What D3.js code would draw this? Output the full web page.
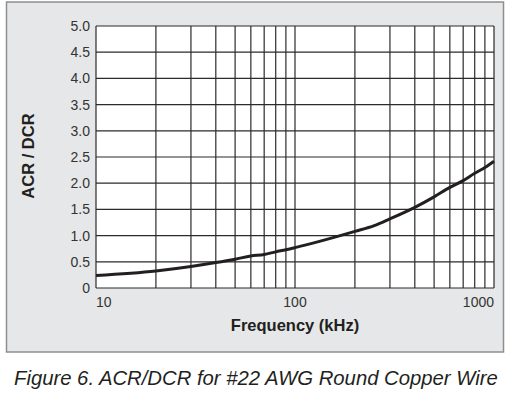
<!DOCTYPE html>
<html>
<head>
<meta charset="utf-8">
<script src="https://cdn.jsdelivr.net/npm/d3@7/dist/d3.min.js"></script>
<style>
  html, body { margin: 0; padding: 0; background: #fff; }
  svg text { font-family: "Liberation Sans", Arial, Helvetica, sans-serif; }
</style>
</head>
<body>
<svg id="chart" width="511" height="395"></svg>
<script>
// curve (frequency in kHz, ACR/DCR)
const freqs = [10, 20, 30, 40, 50, 60, 70, 80, 90, 100, 200, 250, 300, 400, 500, 600, 700, 800, 900, 1000]
const ratios = [0.24, 0.325, 0.41, 0.485, 0.55, 0.61, 0.64, 0.69, 0.73, 0.77, 1.08, 1.19, 1.32, 1.54, 1.74, 1.92, 2.05, 2.19, 2.30, 2.42]

const xTickLabels = [10, 100, 1000]
const yTicks = [0, 0.5, 1.0, 1.5, 2.0, 2.5, 3.0, 3.5, 4.0, 4.5, 5.0]
const xGrid = [20, 30, 40, 50, 60, 70, 80, 90, 100, 200, 300, 400, 500, 600, 700, 800, 900, 1000]

const margin = { left: 96, top: 26, right: 17, bottom: 107 }
const width = 511 - margin.left - margin.right
const height = 395 - margin.top - margin.bottom

const svg = d3.select('#chart')

// grey panel behind the graph
svg.append('rect')
  .attr('x', 6.5)
  .attr('y', 2)
  .attr('width', 497)
  .attr('height', 350)
  .attr('fill', '#e6e7e8')
  .attr('stroke', '#8f8f8f')
  .attr('stroke-width', 1.5)

const g = svg.append('g')
  .attr('transform', 'translate(' + margin.left + ',' + margin.top + ')')

const x = d3.scaleLog().domain([10, 1000]).range([0, width])
const y = d3.scaleLinear().domain([0, 5]).range([height, 0])

g.append('rect')
  .attr('width', width)
  .attr('height', height)
  .attr('fill', '#fff')

// grid
g.append('g')
  .attr('class', 'grid-y')
  .selectAll('line')
  .data(yTicks)
  .enter()
  .append('line')
  .attr('x1', 0)
  .attr('x2', width)
  .attr('y1', d => y(d))
  .attr('y2', d => y(d))
  .attr('stroke', '#2b2b2b')
  .attr('stroke-width', 1.2)

g.append('g')
  .attr('class', 'grid-x')
  .selectAll('line')
  .data(xGrid)
  .enter()
  .append('line')
  .attr('x1', d => x(d))
  .attr('x2', d => x(d))
  .attr('y1', 0)
  .attr('y2', height)
  .attr('stroke', '#2b2b2b')
  .attr('stroke-width', 1.2)

// left axis line
g.append('line')
  .attr('x1', 0).attr('x2', 0)
  .attr('y1', 0).attr('y2', height)
  .attr('stroke', '#2b2b2b')
  .attr('stroke-width', 1.2)

// y tick labels
g.append('g')
  .attr('class', 'y axis')
  .selectAll('text')
  .data(yTicks)
  .enter()
  .append('text')
  .attr('x', -6)
  .attr('y', d => y(d))
  .attr('dy', '0.35em')
  .attr('text-anchor', 'end')
  .attr('font-size', 14)
  .attr('fill', '#333')
  .text(d => d === 0 ? '0' : d.toFixed(1))

// x tick labels
g.append('g')
  .attr('class', 'x axis')
  .selectAll('text')
  .data(xTickLabels)
  .enter()
  .append('text')
  .attr('x', d => x(d))
  .attr('y', height + 19)
  .attr('text-anchor', (d, i) => i === 0 ? 'start' : (i === xTickLabels.length - 1 ? 'end' : 'middle'))
  .attr('font-size', 14)
  .attr('fill', '#333')
  .text(d => d)

// curve
const line = d3.line()
  .x(d => x(d[0]))
  .y(d => y(d[1]))
  .curve(d3.curveMonotoneX)

g.append('path')
  .datum(freqs.map((f, i) => [f, ratios[i]]))
  .attr('d', line)
  .attr('fill', 'none')
  .attr('stroke', '#231f20')
  .attr('stroke-width', 3)

// axis titles
g.append('text')
  .attr('x', width / 2)
  .attr('y', height + 43)
  .attr('text-anchor', 'middle')
  .attr('font-size', 16.5)
  .attr('font-weight', 'bold')
  .attr('fill', '#231f20')
  .text('Frequency (kHz)')

svg.append('text')
  .attr('transform', 'translate(34,156) rotate(-90)')
  .attr('text-anchor', 'middle')
  .attr('font-size', 16.5)
  .attr('font-weight', 'bold')
  .attr('fill', '#231f20')
  .text('ACR / DCR')

// caption
svg.append('text')
  .attr('x', 14)
  .attr('y', 385)
  .attr('font-size', 20.3)
  .attr('font-style', 'italic')
  .attr('fill', '#231f20')
  .text('Figure 6. ACR/DCR for #22 AWG Round Copper Wire')
</script>
</body>
</html>
